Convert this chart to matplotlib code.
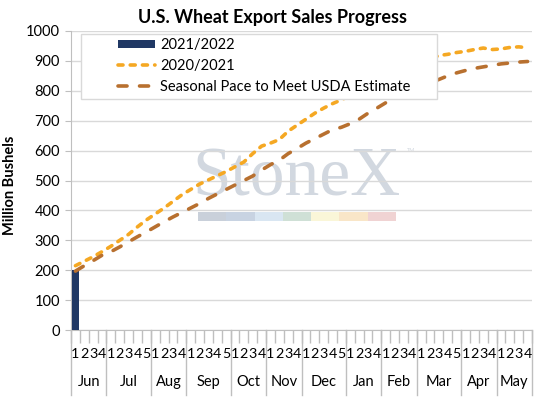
import matplotlib
matplotlib.use("Agg")
import matplotlib.pyplot as plt
from matplotlib.lines import Line2D
from matplotlib.patches import Rectangle
from matplotlib.legend_handler import HandlerLine2D, HandlerPatch
import matplotlib.transforms as mtransforms

plt.rcParams['font.family'] = ['Lato', 'DejaVu Sans']
plt.rcParams['lines.scale_dashes'] = False

months = ["Jun", "Jul", "Aug", "Sep", "Oct", "Nov", "Dec", "Jan", "Feb", "Mar", "Apr", "May"]
weeks_per_month = [4, 5, 4, 5, 4, 4, 5, 4, 4, 5, 4, 4]
week_labels = [str(w + 1) for n in weeks_per_month for w in range(n)]

sales_2122 = [200]
sales_2021 = [215, 230, 245, 262, 280, 300, 320, 345, 368, 388,
              408, 430, 452, 470, 488, 502, 516, 530, 546, 562,
              590, 615, 625, 637, 665, 685, 705, 725, 742, 757,
              770, 785, 800, 815, 830, 845, 860, 873, 885, 896,
              906, 918, 922, 928, 932, 938, 943, 938, 940, 945,
              947, 944]
seasonal_pace = [197, 215, 232, 250, 262, 278, 295, 312, 328, 345,
                 362, 378, 393, 408, 423, 440, 455, 470, 485, 500,
                 515, 535, 553, 568, 590, 607, 625, 640, 655, 670,
                 678, 690, 705, 725, 742, 760, 778, 792, 805, 815,
                 826, 838, 850, 860, 868, 875, 880, 885, 890, 893,
                 896, 898]

n = len(week_labels)
x = list(range(n))

fig = plt.figure(figsize=(5.4, 4.01), dpi=100)
ax = fig.add_axes([71/540, 1-330/401, 461/540, 299/401])

grid_c = '#d9d9d9'
axis_c = '#bfbfbf'

# watermark
ax.text(0.489, 0.4515, "StoneX", transform=ax.transAxes, ha='center', va='baseline',
        fontsize=50, family='Liberation Serif', color='#d2d8e0', zorder=0.5)
ax.text(0.738, 0.6, "TM", transform=ax.transAxes, ha='center', va='center',
        fontsize=4, color='#d2d8e0', zorder=0.5)
bar_cols = ['#c9d0da', '#c8d3e2', '#d9e6f2', '#cfe0d6', '#faf6d8', '#f9e6c8', '#f0d3d3']
x0, x1 = 0.2755, 0.705
w = (x1 - x0) / len(bar_cols)
for i, c in enumerate(bar_cols):
    ax.add_patch(Rectangle((x0 + i * w, 0.3645), w, 0.0305, transform=ax.transAxes,
                           color=c, lw=0, zorder=0.5))

b = ax.bar([0], sales_2122, width=0.85, color='#203864', zorder=3, label='2021/2022')
l1, = ax.plot(x, sales_2021, color='#f5a823', lw=2.6, dashes=(3.6, 5.2), dash_capstyle='round',
              zorder=4, label='2020/2021')
l2, = ax.plot(x, seasonal_pace, color='#b8702f', lw=2.6, dashes=(6.5, 9.0), dash_capstyle='round',
              zorder=4, label='Seasonal Pace to Meet USDA Estimate')

ax.set_xlim(-0.5, n - 0.5)
ax.set_ylim(0, 1000)
ax.set_yticks(range(0, 1001, 100))
ax.yaxis.grid(True, color=grid_c, lw=1)
ax.set_axisbelow(True)
for s in ['top', 'right']:
    ax.spines[s].set_visible(False)
for s in ['left', 'bottom']:
    ax.spines[s].set_color(axis_c)
ax.tick_params(axis='y', length=4, color=axis_c, labelsize=10.5, pad=4, labelcolor='#000000')

ax.set_xticks(x)
ax.set_xticklabels(week_labels, fontsize=10.3)
ax.tick_params(axis='x', length=0, pad=13)
ax.set_xticks([i - 0.5 for i in range(n + 1)], minor=True)
ax.tick_params(axis='x', which='minor', length=9, color=axis_c, width=1)

# month labels & separators
trans = mtransforms.blended_transform_factory(ax.transData, ax.transAxes)
start = 0
for m, k in zip(months, weeks_per_month):
    ax.text(start + k / 2 - 0.5, -0.175, m, transform=trans, ha='center', va='center',
            fontsize=10.5)
    ax.add_line(Line2D([start - 0.5, start - 0.5], [0, -0.217], transform=trans,
                       color=axis_c, lw=1, clip_on=False))
    start += k
ax.add_line(Line2D([start - 0.5, start - 0.5], [0, -0.217], transform=trans,
                   color=axis_c, lw=1, clip_on=False))

ax.set_ylabel("Million Bushels", fontsize=10.5, fontweight='bold')
ax.yaxis.set_label_coords(-0.117, 0.485)
fig.text(272/540, 1-17/401, "U.S. Wheat Export Sales Progress", ha='center', va='center',
         fontsize=13, fontweight='bold')

OFF = 0.47


class OffsetLine(HandlerLine2D):
    def adjust_drawing_area(self, legend, orig_handle, xdescent, ydescent, width, height, fontsize):
        xd, yd, wd, ht = super().adjust_drawing_area(legend, orig_handle, xdescent, ydescent,
                                                     width, height, fontsize)
        off = wd * OFF
        return xd - off, yd, wd - off, ht


class OffsetPatch(HandlerPatch):
    def adjust_drawing_area(self, legend, orig_handle, xdescent, ydescent, width, height, fontsize):
        xd, yd, wd, ht = super().adjust_drawing_area(legend, orig_handle, xdescent, ydescent,
                                                     width, height, fontsize)
        off = wd * OFF
        return xd - off, yd - ht * 0.1, wd - off, ht * 0.8


patch = b.patches[0]
leg = ax.legend([patch, l1, l2], ['2021/2022', '2020/2021', 'Seasonal Pace to Meet USDA Estimate'],
                loc='upper left', bbox_to_anchor=(10/461, 1 - 3/299, 356/461, 0.0),
                mode='expand', fontsize=10.5, framealpha=1,
                frameon=True, fancybox=False, edgecolor='#d9d9d9', handlelength=4.77,
                handletextpad=0.35, borderpad=0.3, labelspacing=0.48, borderaxespad=0,
                handler_map={Rectangle: OffsetPatch(), Line2D: OffsetLine()})
leg.get_frame().set_linewidth(1)
leg.set_zorder(5)

fig.savefig("out.png", dpi=100)
